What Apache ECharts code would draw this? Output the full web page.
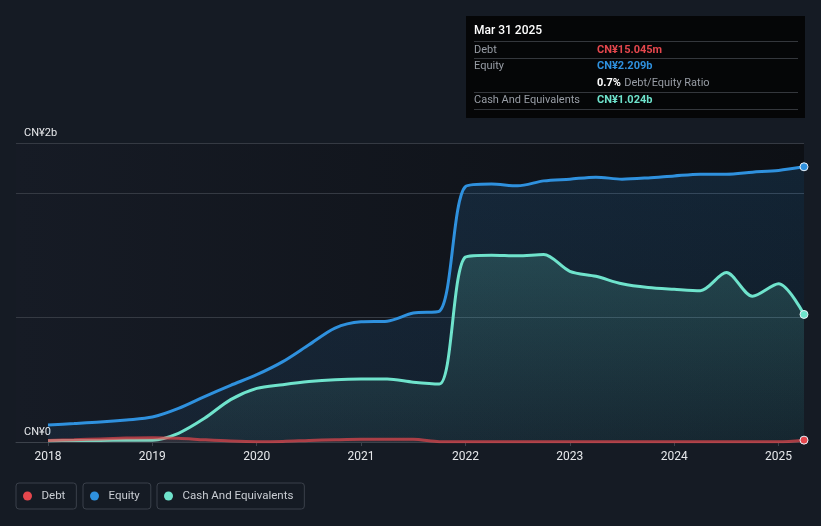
<!DOCTYPE html>
<html>
<head>
<meta charset="utf-8">
<script src="https://cdn.jsdelivr.net/npm/echarts@6/dist/echarts.min.js"></script>
<style>
html,body{margin:0;padding:0;background:#151b24;}
#c{width:821px;height:526px;}
</style>
</head>
<body>
<div id="c"></div>
<script>
// Decimal-year dates (quarterly) ending Mar 31 2025
const dates = [2018.0,2018.25,2018.5,2018.75,2019.0,2019.25,2019.5,2019.75,2020.0,2020.25,2020.5,2020.75,2021.0,2021.25,2021.5,2021.75,2022.0,2022.25,2022.5,2022.75,2023.0,2023.25,2023.5,2023.75,2024.0,2024.25,2024.5,2024.75,2025.0,2025.2438];
// values in CN¥ billions
const equity = [0.137,0.148,0.160,0.177,0.200,0.270,0.365,0.455,0.540,0.645,0.780,0.915,0.965,0.970,1.035,1.050,2.050,2.070,2.056,2.096,2.110,2.126,2.110,2.120,2.136,2.150,2.150,2.166,2.180,2.209];
const cash = [0.010,0.012,0.013,0.014,0.015,0.070,0.190,0.340,0.430,0.460,0.485,0.500,0.505,0.505,0.480,0.466,1.485,1.500,1.494,1.505,1.370,1.330,1.270,1.240,1.226,1.215,1.360,1.170,1.270,1.024];
const debt = [0.012,0.018,0.025,0.032,0.035,0.030,0.018,0.008,0.003,0.005,0.012,0.018,0.022,0.022,0.022,0.003,0.002,0.002,0.002,0.002,0.002,0.002,0.002,0.002,0.002,0.002,0.002,0.002,0.002,0.015];
const yearTicks = [2018,2019,2020,2021,2022,2023,2024,2025];
const seriesNames = ['Debt','Equity','Cash And Equivalents'];
const tipDate = 'Mar 31 2025';
const tipDebt = 'CN¥15.045m';
const tipEquity = 'CN¥2.209b';
const tipRatio = '0.7%';
const tipCash = 'CN¥1.024b';

const C_DEBT = '#e5474d', C_EQ = '#2f91de', C_CASH = '#6fe3cc';
const FONT = 'Roboto, "Noto Sans", sans-serif';

function build(vals, endColor) {
  return vals.map((v, i) => {
    if (i === vals.length - 1) {
      return {value: [dates[i], v], symbol: 'circle', symbolSize: 8,
        itemStyle: {color: endColor, borderColor: '#e8f0f8', borderWidth: 1}};
    }
    return {value: [dates[i], v], symbol: 'none'};
  });
}

const chart = echarts.init(document.getElementById('c'));
function legendFor(name, left) {
  return {
    data: [name], left: left, top: 483, orient: 'horizontal',
    icon: 'circle', itemWidth: 14, itemHeight: 9,
    padding: [7, 11, 7, 7],
    borderColor: '#3a404a', borderWidth: 1, borderRadius: 3,
    backgroundColor: 'transparent',
    selectedMode: false,
    textStyle: {color: '#c9cdd3', fontSize: 11.5, fontFamily: FONT, padding: [0, 0, 0, 2]}
  };
}
const option = {
  backgroundColor: '#151b24',
  animation: false,
  grid: {left: 16, right: 17, top: 143, bottom: 84, show: true, borderWidth: 0,
    backgroundColor: {type: 'linear', x: 0, y: 0, x2: 1, y2: 0,
      colorStops: [{offset: 0, color: '#161b25'}, {offset: 1, color: '#0d1015'}]}},
  legend: [legendFor('Debt', 16), legendFor('Equity', 83), legendFor('Cash And Equivalents', 157)],
  xAxis: {
    type: 'value', min: 2017.6935, max: 2025.2438,
    axisLine: {show: true, lineStyle: {color: '#3c424b', width: 1}},
    axisTick: {show: true, customValues: yearTicks, length: 4, lineStyle: {color: '#3c424b'}},
    axisLabel: {customValues: yearTicks, formatter: v => String(Math.round(v)),
      color: '#e6e8eb', fontSize: 12, fontFamily: FONT, margin: 9},
    splitLine: {show: false}
  },
  yAxis: {
    type: 'value', min: 0, max: 2.4, interval: 1,
    axisLine: {show: false}, axisTick: {show: false},
    splitLine: {show: true, lineStyle: {color: '#353a43', width: 1}},
    axisLabel: {inside: true, align: 'left', verticalAlign: 'bottom', margin: 8,
      padding: [0, 0, 4, 0], showMinLabel: true, showMaxLabel: true,
      color: '#e6e8eb', fontSize: 11, fontFamily: FONT,
      formatter: v => v === 0 ? 'CN¥0' : (v > 2.3 ? 'CN¥2b' : '')}
  },
  series: [
    {name: 'Equity', type: 'line', smooth: 0.3, showAllSymbol: true, data: build(equity, C_EQ),
      color: C_EQ, lineStyle: {color: C_EQ, width: 3}, z: 2,
      areaStyle: {color: {type: 'linear', x: 0, y: 0, x2: 0, y2: 1,
        colorStops: [{offset: 0, color: 'rgba(47,145,222,0.22)'}, {offset: 1, color: 'rgba(47,145,222,0.12)'}]}}},
    {name: 'Cash And Equivalents', type: 'line', smooth: 0.3, showAllSymbol: true, data: build(cash, C_CASH),
      color: C_CASH, lineStyle: {color: C_CASH, width: 3}, z: 3,
      areaStyle: {color: {type: 'linear', x: 0, y: 0, x2: 0, y2: 1,
        colorStops: [{offset: 0, color: 'rgba(111,227,204,0.26)'}, {offset: 1, color: 'rgba(111,227,204,0.08)'}]}}},
    {name: 'Debt', type: 'line', smooth: 0.3, showAllSymbol: true, data: build(debt, C_DEBT),
      color: C_DEBT, lineStyle: {color: 'rgba(229,71,77,0.7)', width: 3}, z: 4,
      areaStyle: {color: 'rgba(229,71,77,0.15)'}}
  ],
  graphic: [
    {type: 'rect', shape: {x: 466, y: 16, width: 339, height: 102}, style: {fill: '#050607'}, z: 10},
    {type: 'text', x: 474, y: 31, z: 11, style: {text: tipDate, fill: '#ffffff', font: '500 12px ' + FONT, verticalAlign: 'middle'}},
    {type: 'line', shape: {x1: 474, y1: 41.5, x2: 798, y2: 41.5}, style: {stroke: '#34373c', lineWidth: 1}, z: 11},
    {type: 'line', shape: {x1: 474, y1: 58.5, x2: 798, y2: 58.5}, style: {stroke: '#34373c', lineWidth: 1}, z: 11},
    {type: 'line', shape: {x1: 474, y1: 92.5, x2: 798, y2: 92.5}, style: {stroke: '#34373c', lineWidth: 1}, z: 11},
    {type: 'line', shape: {x1: 474, y1: 109.5, x2: 798, y2: 109.5}, style: {stroke: '#34373c', lineWidth: 1}, z: 11},
    {type: 'text', x: 474, y: 50, z: 11, style: {text: 'Debt', fill: '#989da5', font: '11px ' + FONT, verticalAlign: 'middle'}},
    {type: 'text', x: 597, y: 50, z: 11, style: {text: tipDebt, fill: C_DEBT, font: 'bold 11px ' + FONT, verticalAlign: 'middle'}},
    {type: 'text', x: 474, y: 66.5, z: 11, style: {text: 'Equity', fill: '#989da5', font: '11px ' + FONT, verticalAlign: 'middle'}},
    {type: 'text', x: 597, y: 66.5, z: 11, style: {text: tipEquity, fill: C_EQ, font: 'bold 11px ' + FONT, verticalAlign: 'middle'}},
    {type: 'text', x: 597, y: 83, z: 11, style: {
      text: '{b|' + tipRatio + '} {g|Debt/Equity Ratio}', verticalAlign: 'middle',
      rich: {b: {fill: '#ffffff', font: 'bold 11px ' + FONT}, g: {fill: '#989da5', font: '11px ' + FONT}}}},
    {type: 'text', x: 474, y: 100.5, z: 11, style: {text: 'Cash And Equivalents', fill: '#989da5', font: '11px ' + FONT, verticalAlign: 'middle'}},
    {type: 'text', x: 597, y: 100.5, z: 11, style: {text: tipCash, fill: C_CASH, font: 'bold 11px ' + FONT, verticalAlign: 'middle'}}
  ]
};
chart.setOption(option);
</script>
</body>
</html>
